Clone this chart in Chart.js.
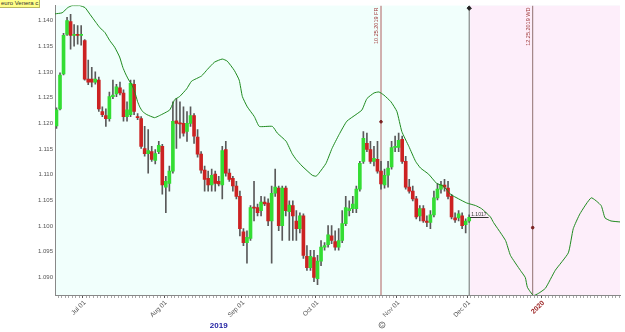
<!DOCTYPE html>
<html><head><meta charset="utf-8">
<script src="https://cdn.jsdelivr.net/npm/chart.js@4.4.1/dist/chart.umd.min.js"></script>
<style>
html,body{margin:0;padding:0;background:#fff;}
#wrap{position:relative;width:625px;height:332px;overflow:hidden;}
#legend{position:absolute;left:0;top:0;width:38px;height:7px;background:#ffff88;border-right:1px solid #b8b860;border-bottom:1px solid #b8b860;font:6px "Liberation Sans",Arial,sans-serif;line-height:7px;color:#333;padding-left:1px;white-space:nowrap;overflow:hidden;}
</style></head>
<body><div id="wrap"><canvas id="c" width="625" height="332"></canvas><div id="legend">euro Venera c.</div></div>
<script>
// ---- data (EUR/USD daily, Jun 19 – Nov 29 2019) ----
const opens = [1.1195,1.1228,1.1296,1.1373,1.1398,1.1371,1.1372,1.1371,1.1361,1.1286,1.1286,1.1280,1.1284,1.1223,1.1215,1.1209,1.1252,1.1257,1.1269,1.1259,1.1213,1.1217,1.1276,1.1213,1.1209,1.1151,1.1141,1.1145,1.1128,1.1145,1.1155,1.1076,1.1083,1.1107,1.1205,1.1200,1.1200,1.1184,1.1200,1.1215,1.1173,1.1140,1.1109,1.1093,1.1080,1.1101,1.1087,1.1080,1.1149,1.1103,1.1093,1.1078,1.1058,1.0989,1.0968,1.0976,1.1036,1.1036,1.1030,1.1047,1.1045,1.1010,1.1064,1.1074,1.1001,1.1074,1.1028,1.1040,1.1010,1.0995,1.1020,1.0941,1.0919,1.0939,1.0898,1.0932,1.0959,1.0964,1.0981,1.0970,1.0959,1.0972,1.1005,1.1030,1.1034,1.1034,1.1072,1.1126,1.1161,1.1149,1.1126,1.1130,1.1107,1.1080,1.1099,1.1115,1.1153,1.1153,1.1169,1.1126,1.1076,1.1068,1.1053,1.1020,1.1034,1.1010,1.1007,1.1022,1.1055,1.1072,1.1080,1.1074,1.1058,1.1016,1.1016,1.1020,1.1003,1.1010];
const highs = [1.1230,1.1298,1.1375,1.1406,1.1412,1.1392,1.1390,1.1390,1.1363,1.1323,1.1309,1.1300,1.1290,1.1232,1.1228,1.1261,1.1284,1.1276,1.1280,1.1265,1.1242,1.1284,1.1284,1.1219,1.1213,1.1194,1.1188,1.1155,1.1149,1.1165,1.1159,1.1097,1.1117,1.1242,1.1248,1.1242,1.1232,1.1223,1.1232,1.1219,1.1188,1.1145,1.1117,1.1107,1.1111,1.1107,1.1097,1.1155,1.1165,1.1111,1.1097,1.1087,1.1068,1.0995,1.0991,1.1040,1.1087,1.1043,1.1058,1.1057,1.1053,1.1078,1.1111,1.1078,1.1078,1.1078,1.1049,1.1049,1.1030,1.1026,1.1024,1.0962,1.0953,1.0953,1.0943,1.0972,1.0968,1.1001,1.1001,1.0991,1.0995,1.1030,1.1058,1.1049,1.1058,1.1078,1.1126,1.1184,1.1181,1.1165,1.1155,1.1165,1.1126,1.1111,1.1126,1.1165,1.1175,1.1181,1.1175,1.1136,1.1091,1.1078,1.1058,1.1040,1.1040,1.1020,1.1030,1.1068,1.1083,1.1087,1.1091,1.1087,1.1062,1.1026,1.1030,1.1026,1.1014,1.1022];
const lows = [1.1190,1.1226,1.1294,1.1371,1.1344,1.1350,1.1354,1.1352,1.1284,1.1275,1.1271,1.1276,1.1223,1.1213,1.1194,1.1204,1.1248,1.1252,1.1255,1.1204,1.1204,1.1213,1.1217,1.1207,1.1151,1.1136,1.1103,1.1126,1.1121,1.1141,1.1062,1.1026,1.1068,1.1103,1.1151,1.1171,1.1175,1.1165,1.1194,1.1161,1.1134,1.1103,1.1068,1.1068,1.1068,1.1068,1.1078,1.1053,1.1097,1.1087,1.1068,1.1053,1.0981,1.0962,1.0928,1.0972,1.1010,1.1020,1.1020,1.1040,1.1001,1.0928,1.1058,1.0991,1.0972,1.1020,1.0972,1.0972,1.0972,1.0987,1.0937,1.0914,1.0914,1.0892,1.0886,1.0923,1.0953,1.0959,1.0966,1.0953,1.0953,1.0968,1.1001,1.1020,1.1026,1.1026,1.1068,1.1122,1.1145,1.1122,1.1117,1.1103,1.1072,1.1074,1.1076,1.1111,1.1145,1.1145,1.1122,1.1072,1.1064,1.1049,1.1014,1.1010,1.1007,1.0999,1.0995,1.1018,1.1051,1.1064,1.1068,1.1053,1.1014,1.1007,1.1010,1.0995,1.0987,1.1007];
const closes = [1.1226,1.1294,1.1371,1.1400,1.1371,1.1373,1.1371,1.1372,1.1286,1.1280,1.1280,1.1286,1.1228,1.1217,1.1209,1.1252,1.1255,1.1271,1.1259,1.1213,1.1226,1.1278,1.1223,1.1211,1.1155,1.1141,1.1147,1.1130,1.1141,1.1157,1.1080,1.1087,1.1107,1.1204,1.1200,1.1199,1.1181,1.1200,1.1215,1.1175,1.1140,1.1109,1.1091,1.1080,1.1099,1.1083,1.1082,1.1147,1.1103,1.1091,1.1078,1.1058,1.0995,1.0968,1.0978,1.1036,1.1035,1.1026,1.1047,1.1043,1.1010,1.1064,1.1076,1.1001,1.1074,1.1030,1.1041,1.1020,1.0995,1.1020,1.0943,1.0919,1.0941,1.0900,1.0932,1.0959,1.0962,1.0983,1.0972,1.0959,1.0972,1.1005,1.1036,1.1034,1.1043,1.1072,1.1122,1.1171,1.1149,1.1126,1.1132,1.1107,1.1082,1.1099,1.1113,1.1153,1.1155,1.1167,1.1126,1.1076,1.1068,1.1053,1.1018,1.1034,1.1010,1.1007,1.1022,1.1055,1.1072,1.1080,1.1076,1.1058,1.1018,1.1012,1.1024,1.1001,1.1010,1.1017];

// cycle projection line (trading-day index, value)
const cycleIdx = [-0.4,1.6,3.2,4.4,6.6,8.1,9.5,11.2,12.3,13.7,15.1,16.5,17.9,18.8,19.6,20.5,21.3,22.2,23.0,23.6,24.4,25.6,27.8,29.2,32.1,33.5,34.9,36.9,38.3,41.1,42.8,44.8,47.0,48.4,50.4,51.8,52.7,54.1,56.1,57.5,61.2,62.6,65.1,66.8,67.9,69.6,72.5,73.6,74.4,76.4,78.1,80.1,82.3,84.9,86.6,88.0,90.0,91.4,92.8,94.8,96.5,97.9,99.9,101.8,103.2,105.5,107.8,109.7,111.7,114.0,116.3,118.8,120.5,123.0,123.9,127.3,128.7,131.5,132.9,133.5,135.2,136.6,138.6,141.4,145.1,146.5,148.4,151.6,154.4,155.5,157.2,160.0];
const cycleVal = [1.1413,1.1415,1.1425,1.1429,1.1429,1.1425,1.1412,1.1396,1.1386,1.1377,1.1361,1.1348,1.1329,1.1309,1.1296,1.1284,1.1276,1.1261,1.1242,1.1232,1.1223,1.1217,1.1211,1.1215,1.1226,1.1246,1.1252,1.1267,1.1282,1.1292,1.1305,1.1319,1.1325,1.1321,1.1303,1.1284,1.1252,1.1232,1.1213,1.1194,1.1194,1.1181,1.1165,1.1141,1.1130,1.1117,1.1099,1.1097,1.1103,1.1122,1.1151,1.1178,1.1204,1.1217,1.1226,1.1248,1.1259,1.1261,1.1255,1.1242,1.1223,1.1184,1.1155,1.1126,1.1113,1.1101,1.1083,1.1078,1.1062,1.1053,1.1045,1.1040,1.1034,1.1018,1.1007,1.0972,1.0943,1.0914,1.0900,1.0881,1.0865,1.0869,1.0879,1.0914,1.0948,1.0995,1.1024,1.1055,1.1040,1.1016,1.1010,1.1008];

// events
const eventIdx = [92, 135];
const eventLabels = ['10.25.2019 FR', '12.25.2019 WD'];
const eventDotVal = [1.1203, 1.0997];
const lastBarIdx = 117;

// axes
const yTicks = [1.090,1.095,1.100,1.105,1.110,1.115,1.120,1.125,1.130,1.135,1.140];
const monthTickIdx = [8, 31, 53, 74, 97, 117, 138];
const monthTickLabels = ['Jul 01','Aug 01','Sep 01','Oct 01','Nov 01','Dec 01','2020'];
const yearLabel = '2019';
const yearLabelIdx = 46;

// ---- chart ----
const Y_MIN = 1.0866, Y_MAX = 1.1429, X_MIN = -0.42, X_MAX = 159.75;
const GREEN = '#33dd33', RED = '#cc2222';
const FONT = '"Liberation Sans", Arial, sans-serif';

const wickData = opens.map((o, i) => ({x: i, y: [lows[i], highs[i]]}));
const bodyData = opens.map((o, i) => ({x: i, y: [Math.min(o, closes[i]), Math.max(o, closes[i])]}));
const bodyColors = opens.map((o, i) => closes[i] >= o ? GREEN : RED);
const cycleData = cycleIdx.map((x, i) => ({x, y: cycleVal[i]}));

function vline(idx, color) {
  return {type: 'line', data: [{x: idx, y: Y_MIN}, {x: idx, y: Y_MAX}], borderColor: color, borderWidth: 1, pointRadius: 0, order: 5};
}

const decor = {
  id: 'decor',
  beforeDraw(chart) {
    const {ctx, chartArea: a, scales: {x}} = chart;
    ctx.save();
    ctx.fillStyle = '#ffffff';
    ctx.fillRect(0, 0, chart.width, chart.height);
    ctx.fillStyle = '#f1fffc';
    ctx.fillRect(a.left, a.top, a.right - a.left, a.bottom - a.top);
    const px = x.getPixelForValue(lastBarIdx) + 1;
    ctx.fillStyle = '#fdeefa';
    ctx.fillRect(px, a.top, a.right - px, a.bottom - a.top);
    ctx.restore();
  },
  afterDatasetsDraw(chart) {
    const {ctx, chartArea: a, scales: {x, y}} = chart;
    ctx.save();
    // event labels (vertical)
    ctx.fillStyle = '#a03a3a';
    ctx.font = '5.5px ' + FONT;
    eventIdx.forEach((e, k) => {
      const px = x.getPixelForValue(e);
      ctx.save();
      ctx.translate(px - 1.5, a.top + 2);
      ctx.rotate(-Math.PI / 2);
      ctx.textAlign = 'right';
      ctx.textBaseline = 'bottom';
      ctx.fillText(eventLabels[k], 0, 0);
      ctx.restore();
    });
    // last price label
    const lp = closes[closes.length - 1];
    const lx = x.getPixelForValue(lastBarIdx), ly = y.getPixelForValue(lp);
    ctx.strokeStyle = '#333';
    ctx.lineWidth = 1;
    ctx.beginPath();
    ctx.moveTo(lx + 1, Math.round(ly) + 0.5);
    ctx.lineTo(x.getPixelForValue(lastBarIdx + 5.5), Math.round(ly) + 0.5);
    ctx.stroke();
    ctx.fillStyle = '#333';
    ctx.font = '5px ' + FONT;
    ctx.textAlign = 'left';
    ctx.textBaseline = 'bottom';
    ctx.fillText(lp.toFixed(4), lx + 2, ly - 0.5);
    // year label
    ctx.fillStyle = '#1c1ca0';
    ctx.font = 'bold 8px ' + FONT;
    ctx.textAlign = 'center';
    ctx.textBaseline = 'middle';
    ctx.fillText(yearLabel, x.getPixelForValue(yearLabelIdx), 326);
    // event marker below axis
    const gx = x.getPixelForValue(eventIdx[0]) + 1;
    ctx.strokeStyle = '#888';
    ctx.beginPath();
    ctx.arc(gx, 325, 3, 0, Math.PI * 2);
    ctx.stroke();
    ctx.fillStyle = '#666';
    ctx.font = '4.5px ' + FONT;
    ctx.fillText('G', gx, 325.3);
    ctx.restore();
  }
};

new Chart(document.getElementById('c'), {
  type: 'bar',
  data: {
    datasets: [
      {type: 'line', data: cycleData, borderColor: '#1f8a1f', borderWidth: 1, pointRadius: 0, tension: 0.15, order: 0},
      {type: 'scatter', data: [{x: lastBarIdx, y: 1.1424}], pointStyle: 'rectRot', pointRadius: 2.2, backgroundColor: '#222', borderColor: '#222', order: 0},
      {type: 'scatter', data: eventIdx.map((e, k) => ({x: e, y: eventDotVal[k]})), pointRadius: 1.3, backgroundColor: '#7a2020', borderColor: '#7a2020', order: 0},
      {data: bodyData, backgroundColor: bodyColors, borderWidth: 0, barThickness: 3, minBarLength: 1, grouped: false, order: 1},
      {data: wickData, backgroundColor: '#5a5a5a', borderWidth: 0, barThickness: 1, grouped: false, order: 2},
      vline(eventIdx[0], '#b06060'),
      vline(lastBarIdx, '#6e6e6e'),
      vline(eventIdx[1], '#907070')
    ]
  },
  options: {
    responsive: false,
    animation: false,
    devicePixelRatio: 1,
    layout: {padding: {top: 3, right: 3, left: 0, bottom: 0}},
    plugins: {legend: {display: false}, tooltip: {enabled: false}},
    scales: {
      x: {
        type: 'linear', min: X_MIN, max: X_MAX, offset: false,
        afterBuildTicks: s => { const t = []; for (let i = 0; i <= 159; i++) t.push({value: i}); s.ticks = t; },
        afterFit: s => { s.height = 37; },
        border: {display: true, color: '#888'},
        grid: {display: true, drawOnChartArea: false, drawTicks: true, tickLength: 3,
          tickColor: c => (c.tick && monthTickIdx.includes(c.tick.value)) ? '#555' : '#a8a8a8'},
        ticks: {
          autoSkip: false, maxRotation: 45, minRotation: 45, padding: 1,
          callback: v => { const k = monthTickIdx.indexOf(v); return k >= 0 ? monthTickLabels[k] : ''; },
          color: c => (c.tick && c.tick.value === 138) ? '#9b2222' : '#555',
          font: c => (c.tick && c.tick.value === 138) ? {family: FONT, size: 7, weight: 'bold'} : {family: FONT, size: 6.5}
        }
      },
      y: {
        type: 'linear', min: Y_MIN, max: Y_MAX,
        afterBuildTicks: s => { s.ticks = yTicks.map(v => ({value: v})); },
        afterFit: s => { s.width = 55; },
        border: {display: true, color: '#888'},
        grid: {display: true, drawOnChartArea: false, drawTicks: false},
        ticks: {padding: 2, color: '#555', font: {family: FONT, size: 6}, callback: v => v.toFixed(3)}
      }
    }
  },
  plugins: [decor]
});
</script>
</body></html>
